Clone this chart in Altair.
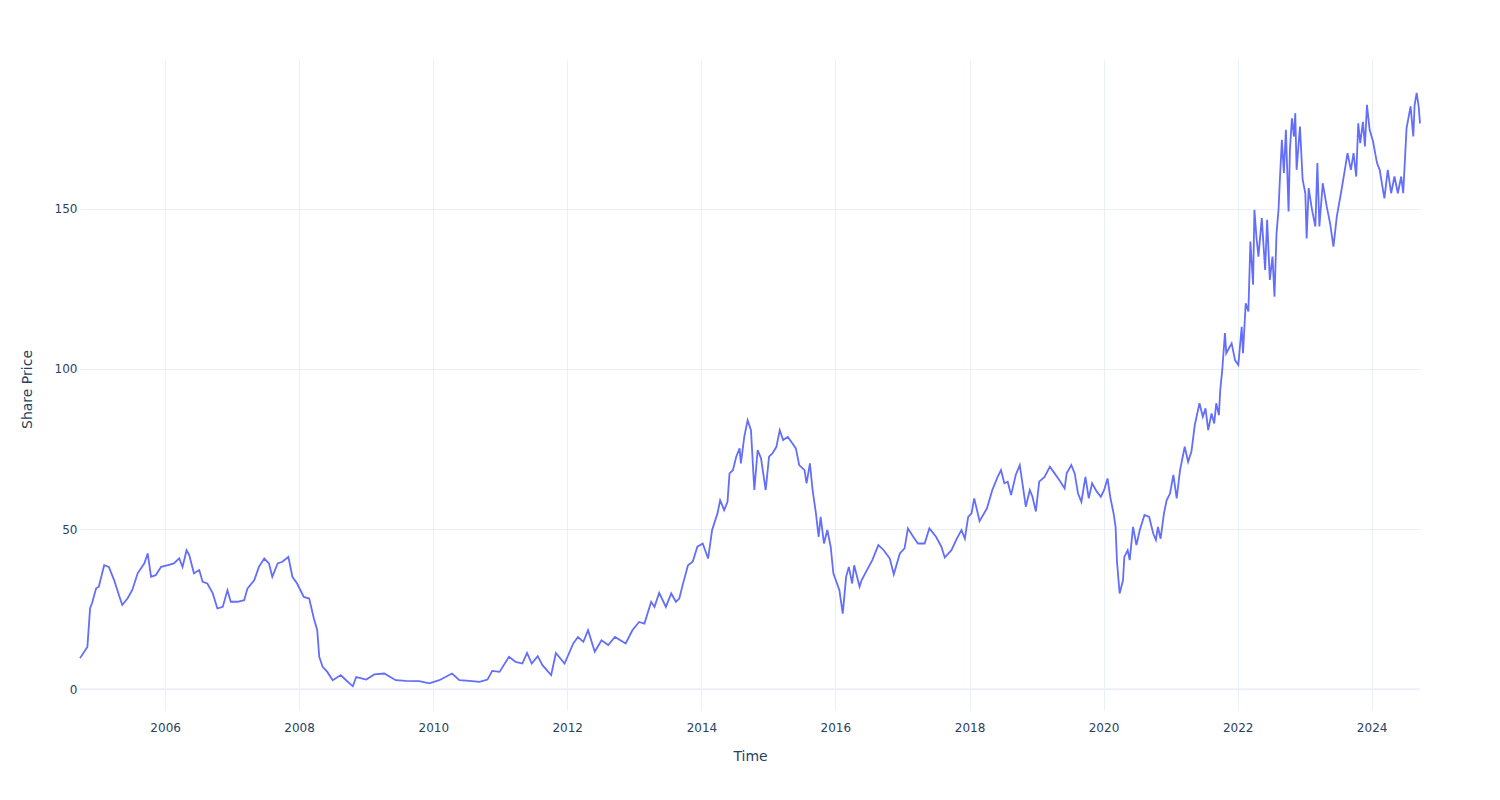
import altair as alt
import pandas as pd
import numpy as np

# Decimal-year positions and share prices
years = [
    2004.73, 2004.84, 2004.88, 2004.91, 2004.97, 2005.01, 2005.09, 2005.16, 2005.24, 2005.31,
    2005.36, 2005.44, 2005.51, 2005.59, 2005.69, 2005.74, 2005.79, 2005.86, 2005.94, 2006.03,
    2006.13, 2006.21, 2006.26, 2006.32, 2006.36, 2006.43, 2006.51, 2006.56, 2006.63, 2006.71,
    2006.78, 2006.86, 2006.93, 2006.98, 2007.08, 2007.18, 2007.23, 2007.33, 2007.40, 2007.48,
    2007.55, 2007.60, 2007.68, 2007.75, 2007.84, 2007.90, 2007.97, 2008.07, 2008.15, 2008.22,
    2008.27, 2008.30, 2008.35, 2008.42, 2008.50, 2008.62, 2008.70, 2008.80, 2008.85, 2009.00,
    2009.12, 2009.27, 2009.44, 2009.59, 2009.79, 2009.94, 2010.09, 2010.28, 2010.39, 2010.54,
    2010.69, 2010.81, 2010.88, 2010.99, 2011.13, 2011.23, 2011.33, 2011.40, 2011.47, 2011.56,
    2011.63, 2011.76, 2011.83, 2011.96, 2012.09, 2012.16, 2012.24, 2012.31, 2012.41, 2012.51,
    2012.61, 2012.71, 2012.87, 2012.97, 2013.07, 2013.15, 2013.25, 2013.30, 2013.37, 2013.47,
    2013.55, 2013.62, 2013.67, 2013.72, 2013.80, 2013.87, 2013.94, 2014.02, 2014.10, 2014.16,
    2014.24, 2014.28, 2014.34, 2014.39, 2014.42, 2014.47, 2014.52, 2014.57, 2014.59, 2014.64,
    2014.69, 2014.74, 2014.79, 2014.84, 2014.89, 2014.96, 2015.01, 2015.06, 2015.12, 2015.17,
    2015.22, 2015.29, 2015.36, 2015.41, 2015.46, 2015.54, 2015.57, 2015.62, 2015.66, 2015.71,
    2015.75, 2015.78, 2015.83, 2015.88, 2015.93, 2015.97, 2016.06, 2016.11, 2016.16, 2016.20,
    2016.25, 2016.28, 2016.36, 2016.39, 2016.47, 2016.55, 2016.64, 2016.72, 2016.81, 2016.87,
    2016.96, 2017.03, 2017.08, 2017.16, 2017.23, 2017.33, 2017.40, 2017.50, 2017.58, 2017.63,
    2017.73, 2017.81, 2017.88, 2017.93, 2017.98, 2018.03, 2018.07, 2018.15, 2018.26, 2018.34,
    2018.42, 2018.47, 2018.52, 2018.57, 2018.62, 2018.69, 2018.75, 2018.79, 2018.84, 2018.90,
    2018.94, 2018.99, 2019.04, 2019.12, 2019.20, 2019.27, 2019.34, 2019.42, 2019.45, 2019.52,
    2019.57, 2019.62, 2019.67, 2019.73, 2019.78, 2019.83, 2019.90, 2019.96, 2020.01, 2020.06,
    2020.10, 2020.15, 2020.18, 2020.20, 2020.24, 2020.29, 2020.31, 2020.36, 2020.39, 2020.44,
    2020.49, 2020.54, 2020.61, 2020.68, 2020.74, 2020.78, 2020.81, 2020.85, 2020.90, 2020.94,
    2020.99, 2021.04, 2021.09, 2021.14, 2021.21, 2021.26, 2021.31, 2021.36, 2021.43, 2021.48,
    2021.52, 2021.56, 2021.61, 2021.65, 2021.68, 2021.72, 2021.74, 2021.77, 2021.81, 2021.83,
    2021.91, 2021.96, 2022.01, 2022.06, 2022.08, 2022.12, 2022.16, 2022.19, 2022.23, 2022.25,
    2022.28, 2022.31, 2022.36, 2022.41, 2022.44, 2022.48, 2022.52, 2022.55, 2022.58, 2022.61,
    2022.63, 2022.66, 2022.69, 2022.72, 2022.76, 2022.78, 2022.81, 2022.84, 2022.86, 2022.88,
    2022.93, 2022.97, 2023.01, 2023.03, 2023.06, 2023.11, 2023.16, 2023.19, 2023.22, 2023.27,
    2023.33, 2023.38, 2023.43, 2023.48, 2023.55, 2023.60, 2023.64, 2023.69, 2023.73, 2023.77,
    2023.80, 2023.83, 2023.87, 2023.90, 2023.93, 2023.97, 2024.02, 2024.08, 2024.12, 2024.16,
    2024.19, 2024.24, 2024.29, 2024.34, 2024.39, 2024.44, 2024.47, 2024.52, 2024.58, 2024.62,
    2024.64, 2024.67, 2024.70, 2024.72,
]

prices = [
    9.7, 13.2, 25.3, 26.9, 31.5, 32.0, 38.7, 38.2, 34.0, 29.4,
    26.3, 28.4, 31.0, 36.2, 39.3, 42.4, 35.1, 35.6, 38.2, 38.7,
    39.3, 40.9, 38.2, 43.4, 41.9, 36.2, 37.2, 33.5, 33.0, 30.0,
    25.2, 25.7, 30.9, 27.3, 27.3, 27.8, 31.5, 34.0, 38.2, 40.8,
    39.3, 35.1, 39.3, 39.8, 41.3, 35.1, 33.0, 28.8, 28.3, 22.1,
    18.4, 10.1, 7.0, 5.4, 2.8, 4.4, 2.8, 0.9, 3.8, 3.0,
    4.6, 4.9, 2.8, 2.6, 2.5, 1.8, 2.8, 4.9, 2.8, 2.6,
    2.3, 3.0, 5.7, 5.4, 10.1, 8.5, 8.0, 11.3, 8.0, 10.3,
    7.5, 4.4, 11.3, 8.0, 14.3, 16.3, 14.8, 18.4, 11.7, 15.3,
    13.8, 16.3, 14.3, 18.4, 21.0, 20.5, 27.3, 25.7, 30.1, 25.7,
    29.9, 27.3, 28.3, 32.5, 38.7, 39.8, 44.5, 45.5, 40.8, 49.7,
    54.9, 59.0, 55.9, 58.5, 67.4, 68.4, 72.6, 75.2, 70.5, 78.8,
    84.0, 80.9, 62.2, 74.7, 72.1, 62.2, 72.6, 73.6, 75.7, 80.9,
    77.8, 78.8, 76.7, 75.2, 70.0, 68.4, 64.3, 70.5, 62.2, 54.9,
    47.6, 53.8, 45.5, 49.7, 44.5, 36.2, 30.9, 23.6, 35.1, 38.2,
    33.0, 38.7, 32.0, 34.0, 37.2, 40.3, 45.0, 43.4, 40.8, 35.9,
    42.4, 44.0, 50.2, 47.6, 45.5, 45.5, 50.2, 47.6, 44.5, 41.1,
    43.4, 47.0, 49.7, 47.0, 53.8, 54.9, 59.6, 52.5, 56.5, 62.2,
    66.3, 68.4, 64.3, 64.8, 60.6, 66.9, 70.0, 64.3, 57.0, 62.2,
    60.1, 55.5, 64.8, 66.3, 69.5, 67.4, 65.3, 62.7, 67.4, 70.0,
    67.4, 61.1, 58.5, 66.3, 59.6, 64.3, 61.7, 60.1, 62.2, 65.8,
    60.1, 54.9, 50.7, 40.0, 29.9, 34.0, 41.3, 43.4, 40.3, 50.7,
    45.0, 49.7, 54.4, 53.8, 48.6, 46.6, 50.7, 47.0, 54.9, 59.0,
    61.1, 66.9, 59.6, 68.4, 75.7, 71.0, 74.2, 82.5, 89.3, 85.1,
    87.7, 80.9, 86.1, 83.0, 89.3, 85.6, 93.4, 99.7, 111.2, 104.9,
    108.0, 102.8, 101.3, 113.2, 104.9, 120.5, 118.0, 139.8, 126.3, 149.7,
    141.3, 135.1, 147.1, 130.9, 146.6, 127.8, 135.1, 122.6, 142.4, 149.7,
    159.1, 171.6, 161.2, 174.7, 149.2, 168.4, 178.3, 172.6, 179.9, 162.2,
    175.7, 159.1, 154.9, 140.8, 156.5, 149.7, 144.5, 164.3, 144.5, 158.0,
    150.7, 145.5, 138.2, 147.6, 155.9, 162.2, 167.4, 162.2, 167.4, 160.1,
    176.7, 170.5, 177.2, 169.5, 182.5, 174.7, 171.1, 164.3, 162.2, 157.0,
    153.3, 162.2, 154.9, 160.1, 154.9, 160.1, 154.9, 175.2, 182.0, 172.6,
    182.5, 186.2, 182.0, 176.7,
]

tick_years = [2006, 2008, 2010, 2012, 2014, 2016, 2018, 2020, 2022, 2024]
y_ticks = [0, 50, 100, 150]
y_domain = [-6.5, 196.5]
zero_value = [0]


def to_date(t):
    y = int(np.floor(t))
    start = pd.Timestamp(year=y, month=1, day=1)
    end = pd.Timestamp(year=y + 1, month=1, day=1)
    return start + (end - start) * (t - y)


df = pd.DataFrame({"Time": [to_date(t) for t in years], "Share Price": prices})
zero_df = pd.DataFrame({"Share Price": zero_value})

FONT = "DejaVu Sans"
TXT = "#2a3f5f"
GRID = "#EBF0F8"
LINE = "#636efa"

x_enc = alt.X(
    "Time:T",
    scale=alt.Scale(nice=False),
    axis=alt.Axis(
        values=[alt.DateTime(year=y, month=1, date=1) for y in tick_years],
        format="%Y",
        title="Time",
        grid=True,
        gridColor=GRID,
        gridWidth=1,
        domain=False,
        ticks=False,
        labelPadding=12,
        labelColor=TXT,
        labelFontSize=12,
        labelFont=FONT,
        titleColor=TXT,
        titleFontSize=14,
        titleFont=FONT,
        titleFontWeight="normal",
        titleY=46,
        titleBaseline="middle",
    ),
)

y_enc = alt.Y(
    "Share Price:Q",
    scale=alt.Scale(domain=y_domain, nice=False, zero=False),
    axis=alt.Axis(
        values=y_ticks,
        title="Share Price",
        grid=True,
        gridColor=GRID,
        gridWidth=1,
        domain=False,
        ticks=False,
        labelPadding=3,
        labelColor=TXT,
        labelFontSize=12,
        labelFont=FONT,
        titleColor=TXT,
        titleFontSize=14,
        titleFont=FONT,
        titleFontWeight="normal",
        titleX=-53,
        titleY=329,
        titleBaseline="middle",
    ),
)

zero_line = alt.Chart(zero_df).mark_rule(color=GRID, strokeWidth=2).encode(y=y_enc)

line = alt.Chart(df).mark_line(color=LINE, strokeWidth=1.8, interpolate="linear").encode(x=x_enc, y=y_enc)

chart = (
    alt.layer(zero_line, line)
    .properties(
        width=1340,
        height=650,
        autosize=alt.AutoSizeParams(type="none"),
        padding={"left": 80, "top": 60, "right": 80, "bottom": 90},
        background="white",
    )
    .configure_view(stroke=None)
)

chart.save("out.html", embed_options={"renderer": "svg", "actions": False})
